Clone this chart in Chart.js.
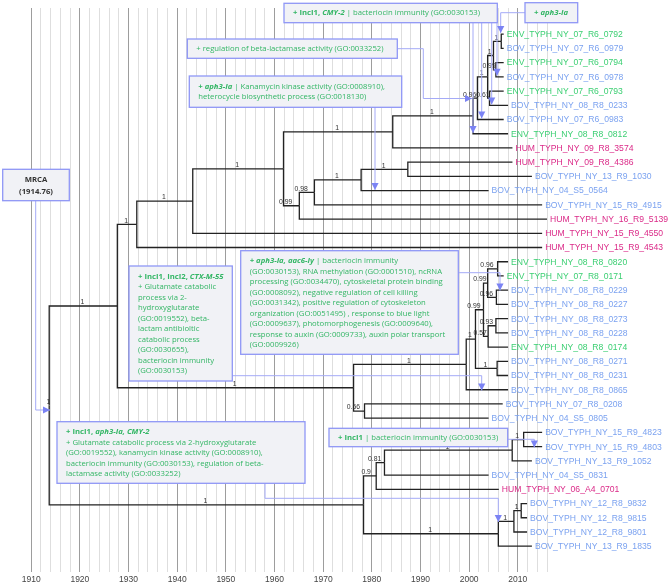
<!DOCTYPE html>
<html>
<head>
<meta charset="utf-8">
<script src="https://cdn.jsdelivr.net/npm/chart.js@4.4.1/dist/chart.umd.min.js"></script>
<style>
  html, body { margin: 0; padding: 0; background: #fff; }
  #wrap { width: 669px; height: 588px; }
</style>
</head>
<body>
<div id="wrap"><canvas id="tree" width="669" height="588"></canvas></div>
<script>
// tips, top to bottom
const leafNames = [
    'ENV_TYPH_NY_07_R6_0792', 'BOV_TYPH_NY_07_R6_0979', 'ENV_TYPH_NY_07_R6_0794', 'BOV_TYPH_NY_07_R6_0978',
    'ENV_TYPH_NY_07_R6_0793', 'BOV_TYPH_NY_08_R8_0233', 'BOV_TYPH_NY_07_R6_0983', 'ENV_TYPH_NY_08_R8_0812',
    'HUM_TYPH_NY_09_R8_3574', 'HUM_TYPH_NY_09_R8_4386', 'BOV_TYPH_NY_13_R9_1030', 'BOV_TYPH_NY_04_S5_0564',
    'BOV_TYPH_NY_15_R9_4915', 'HUM_TYPH_NY_16_R9_5139', 'HUM_TYPH_NY_15_R9_4550', 'HUM_TYPH_NY_15_R9_4543',
    'ENV_TYPH_NY_08_R8_0820', 'ENV_TYPH_NY_07_R8_0171', 'BOV_TYPH_NY_08_R8_0229', 'BOV_TYPH_NY_08_R8_0227',
    'BOV_TYPH_NY_08_R8_0273', 'BOV_TYPH_NY_08_R8_0228', 'ENV_TYPH_NY_08_R8_0174', 'BOV_TYPH_NY_08_R8_0271',
    'BOV_TYPH_NY_08_R8_0231', 'BOV_TYPH_NY_08_R8_0865', 'BOV_TYPH_NY_07_R8_0208', 'BOV_TYPH_NY_04_S5_0805',
    'BOV_TYPH_NY_15_R9_4823', 'BOV_TYPH_NY_15_R9_4803', 'BOV_TYPH_NY_13_R9_1052', 'BOV_TYPH_NY_04_S5_0831',
    'HUM_TYPH_NY_06_A4_0701', 'BOV_TYPH_NY_12_R8_9832', 'BOV_TYPH_NY_12_R8_9815', 'BOV_TYPH_NY_12_R8_9801',
    'BOV_TYPH_NY_13_R9_1835'
];
const leafDates = [
    2007.1, 2007.1, 2007.1, 2007.1, 2007.1, 2008.0, 2007.1, 2008.0,
    2008.9, 2008.9, 2012.9, 2004.0, 2015.0, 2016.0, 2015.0, 2015.0,
    2008.0, 2007.1, 2008.0, 2008.0, 2008.0, 2008.0, 2008.0, 2008.0,
    2008.0, 2008.0, 2006.9, 2004.0, 2015.0, 2015.0, 2012.9, 2004.0,
    2006.1, 2011.9, 2011.9, 2011.9, 2012.9
];
const leafParents = [
    'N12', 'N12', 'N34', 'N34', 'L', 'L', 'I', 'H',
    'G', 'F', 'F', 'E', 'D', 'C', 'A1a', 'A1',
    'N1718', 'N1718', 'N1920', 'N1920', 'AF', 'AF', 'AE', 'AC',
    'AC', 'Z', 'X', 'X', 'U', 'U', 'T', 'S',
    'P', 'W', 'W', 'V', 'R'
];

// internal nodes
const nodeNames = ['root', 'A', 'A1', 'A1a', 'B1', 'G', 'H', 'I', 'J', 'K', 'N12', 'N34', 'L', 'C', 'D', 'E', 'F',
    'Y', 'Z', 'AA', 'AB', 'AD', 'N1718', 'N1920', 'AE', 'AF', 'AC', 'X', 'Q', 'P', 'S', 'T', 'U', 'R', 'V', 'W'];
const nodeDates = [1913.7, 1927.7, 1931.7, 1943.2, 1961.85, 1984.3, 2000.8, 2001.7, 2003.8, 2005.0, 2006.6, 2005.5, 2004.2,
    1965.1, 1968.2, 1977.8, 1987.4, 1976.25, 1999.4, 2001.3, 2002.95, 2003.8, 2005.85, 2005.6, 2003.9, 2005.5, 2005.75,
    1978.5, 1978.3, 1980.9, 1982.6, 2008.85, 2011.2, 2006.0, 2009.2, 2010.7];
const nodeParents = [null, 'root', 'A', 'A1', 'A1a', 'B1', 'G', 'H', 'I', 'J', 'K', 'K', 'J', 'B1', 'C', 'D', 'E',
    'A', 'Y', 'Z', 'AA', 'AB', 'AD', 'AD', 'AB', 'AE', 'AA', 'Y', 'root', 'Q', 'P', 'S', 'T', 'Q', 'R', 'V'];
const nodeSupport = [1, 1, 1, 1, 1, 1, 1, 0.96, 1, 1, 1, 0.99, 0.61, 0.99, 0.98, 1, 1,
    1, 1, 1, 0.99, 0.99, 0.96, 0.96, 0.57, 0.93, 1, 0.56, 1, 0.9, 0.81, 1, 1, 1, 1, 1];
const mrcaLabel = 'MRCA';
const mrcaDate = '1914.76';

const tickLabels = [1910, 1920, 1930, 1940, 1950, 1960, 1970, 1980, 1990, 2000, 2010];

const hostColors = { ENV: '#3bcf72', BOV: '#7ba2f0', HUM: '#db2a88' };

// annotation boxes: [bold|bolditalic|normal, text] segments per line
const boxes = [
    { x: 284, y: 3.3, w: 213.3, h: 19.4, lines: [[['b', '+ IncI1, '], ['bi', 'CMY-2'], ['n', ' | bacteriocin immunity (GO:0030153)']]] },
    { x: 525, y: 2.7, w: 52.7, h: 20, lines: [[['bi', '+ aph3-Ia']]] },
    { x: 187.3, y: 39, w: 210, h: 19.3, lines: [[['n', '+ regulation of beta-lactamase activity (GO:0033252)']]] },
    { x: 189.3, y: 76, w: 212.4, h: 31.3, lines: [
        [['bi', '+ aph3-Ia'], ['n', ' | Kanamycin kinase activity (GO:0008910),']],
        [['n', 'heterocycle biosynthetic process (GO:0018130)']]] },
    { x: 240.7, y: 250.7, w: 217.6, h: 103.6, lines: [
        [['bi', '+ aph3-Ia, aac6-Iy'], ['n', ' | bacteriocin immunity']],
        [['n', '(GO:0030153), RNA methylation (GO:0001510), ncRNA']],
        [['n', 'processing (GO:0034470), cytoskeletal protein binding']],
        [['n', '(GO:0008092), negative regulation of cell killing']],
        [['n', '(GO:0031342), positive regulation of cytoskeleton']],
        [['n', 'organization (GO:0051495) , response to blue light']],
        [['n', '(GO:0009637), photomorphogenesis (GO:0009640),']],
        [['n', 'response to auxin (GO:0009733), auxin polar transport']],
        [['n', '(GO:0009926)']]] },
    { x: 129, y: 266, w: 103.3, h: 115, lines: [
        [['b', '+ IncI1, IncI2, '], ['bi', 'CTX-M-55']],
        [['n', '+ Glutamate catabolic']],
        [['n', 'process via 2-']],
        [['n', 'hydroxyglutarate']],
        [['n', '(GO:0019552), beta-']],
        [['n', 'lactam antibioltic']],
        [['n', 'catabolic process']],
        [['n', '(GO:0030655),']],
        [['n', 'bacteriocin immunity']],
        [['n', '(GO:0030153)']]] },
    { x: 57, y: 421.7, w: 248, h: 61.6, lines: [
        [['b', '+ IncI1, '], ['bi', 'aph3-Ia, CMY-2']],
        [['n', '+ Glutamate catabolic process via 2-hydroxyglutarate']],
        [['n', '(GO:0019552), kanamycin kinase activity (GO:0008910),']],
        [['n', 'bacteriocin immunity (GO:0030153), regulation of beta-']],
        [['n', 'lactamase activity (GO:0033252)']]] },
    { x: 329, y: 428.3, w: 178.7, h: 18.4, lines: [[['b', '+ IncI1'], ['n', ' | bacteriocin immunity (GO:0030153)']]] }
];

// connector paths from boxes to branches, in canvas pixels, arrow head at last point
const arrows = [
    [[35.7, 200.7], [35.7, 410], [50, 410]],
    [[473, 22.7], [473, 133]],
    [[481.7, 22.7], [481.7, 118.6]],
    [[491.7, 22.7], [491.7, 104.5]],
    [[497, 22.7], [497, 75.7]],
    [[525, 12.7], [500.7, 12.7], [500.7, 33]],
    [[397.3, 48.7], [423.3, 48.7], [423.3, 98.5], [472, 98.5]],
    [[375, 107.3], [375, 190]],
    [[232.3, 375.7], [481.7, 375.7], [481.7, 390.5]],
    [[458.3, 272.7], [500, 272.7], [500, 290.5]],
    [[265, 483.3], [265, 498.3], [498.3, 498.3], [498.3, 522]],
    [[507.7, 439.3], [534.3, 439.3], [534.3, 447.5]]
];

// ---- tree layout: y of a node = middle of its children ----
const nodeIndex = {};
nodeNames.forEach((n, i) => nodeIndex[n] = i);
const kids = nodeNames.map(() => []);
leafParents.forEach((p, i) => kids[nodeIndex[p]].push({ leaf: i }));
nodeParents.forEach((p, i) => { if (p) kids[nodeIndex[p]].push({ node: i }); });

const nodeRows = [];
function nodeRow(i) {
    if (nodeRows[i] === undefined) {
        const rows = kids[i].map(c => c.leaf !== undefined ? c.leaf : nodeRow(c.node));
        nodeRows[i] = (Math.min(...rows) + Math.max(...rows)) / 2;
    }
    return nodeRows[i];
}

function elbow(px, py, x, y) {
    return {
        type: 'line',
        data: [{ x: px, y: py }, { x: px, y: y }, { x: x, y: y }],
        borderColor: '#222',
        borderWidth: 1.3,
        pointRadius: 0,
        tension: 0,
        fill: false,
        clip: false
    };
}

const datasets = [];
leafNames.forEach((name, i) => {
    const p = nodeIndex[leafParents[i]];
    datasets.push(elbow(nodeDates[p], nodeRow(p), leafDates[i], i));
});
nodeNames.forEach((name, i) => {
    if (!nodeParents[i]) return;
    const p = nodeIndex[nodeParents[i]];
    datasets.push(elbow(nodeDates[p], nodeRow(p), nodeDates[i], nodeRow(i)));
});
const leafSet = datasets.length;
datasets.push({
    type: 'scatter',
    data: leafNames.map((n, i) => ({ x: leafDates[i], y: i })),
    pointRadius: 0,
    clip: false
});

const SANS = '"Liberation Sans", Arial, Helvetica, sans-serif';
const OPEN = '"Open Sans", "DejaVu Sans", sans-serif';

// pick a font size so that a sample string has the width seen in the picture
function fitSize(ctx, prefix, family, sample, width) {
    ctx.font = `${prefix} 20px ${family}`;
    return 20 * width / ctx.measureText(sample).width;
}

const treeLabels = {
    id: 'treeLabels',
    afterDatasetsDraw(chart) {
        const { ctx, scales: { x, y } } = chart;
        ctx.save();

        // support values above each branch
        const supSize = fitSize(ctx, 'normal 400', SANS, '0.98', 13.3);
        ctx.font = `normal 400 ${supSize}px ${SANS}`;
        ctx.fillStyle = '#333';
        ctx.textAlign = 'right';
        ctx.textBaseline = 'alphabetic';
        nodeNames.forEach((n, i) => {
            const p = nodeParents[i] ? nodeIndex[nodeParents[i]] : i;
            const mid = x.getPixelForValue((nodeDates[p] + nodeDates[i]) / 2);
            ctx.fillText(String(nodeSupport[i]), mid + 1, y.getPixelForValue(nodeRow(i)) - 1.6);
        });

        // tip names
        const leafSize = fitSize(ctx, 'normal 400', SANS, 'BOV_TYPH_NY_13_R9_1835', 116.7);
        ctx.font = `normal 400 ${leafSize}px ${SANS}`;
        ctx.textAlign = 'left';
        ctx.textBaseline = 'middle';
        chart.getDatasetMeta(leafSet).data.forEach((pt, i) => {
            ctx.fillStyle = hostColors[leafNames[i].slice(0, 3)];
            ctx.fillText(leafNames[i], pt.x + 3, pt.y + 0.5);
        });
        ctx.restore();
    },
    afterDraw(chart) {
        const ctx = chart.ctx;
        ctx.save();

        // connectors
        ctx.strokeStyle = '#a4aaf7';
        ctx.lineWidth = 1;
        arrows.forEach(path => {
            ctx.beginPath();
            path.forEach((p, k) => k ? ctx.lineTo(p[0], p[1]) : ctx.moveTo(p[0], p[1]));
            ctx.stroke();
        });

        const boxSize = fitSize(ctx, 'normal 400', OPEN, '+ regulation of beta-lactamase activity (GO:0033252)', 187.6);

        // boxes
        boxes.forEach(b => {
            ctx.fillStyle = '#f1f2f6';
            ctx.fillRect(b.x, b.y, b.w, b.h);
            ctx.strokeStyle = '#8f97f6';
            ctx.lineWidth = 1.3;
            ctx.strokeRect(b.x, b.y, b.w, b.h);
            ctx.fillStyle = '#33b665';
            ctx.textBaseline = 'middle';
            ctx.textAlign = 'left';
            const lh = 10.5;
            const top = b.lines.length === 1 ? b.y + b.h / 2 : b.y + 10.5;
            b.lines.forEach((line, li) => {
                let cx = b.x + 9;
                line.forEach(([style, text]) => {
                    const weight = style === 'n' ? '400' : '700';
                    const slant = style === 'bi' ? 'italic' : 'normal';
                    ctx.font = `${slant} ${weight} ${boxSize}px ${OPEN}`;
                    ctx.fillText(text, cx, top + li * lh);
                    cx += ctx.measureText(text).width;
                });
            });
        });

        // MRCA box
        ctx.fillStyle = '#f1f2f6';
        ctx.fillRect(2.7, 169.3, 66.6, 31.4);
        ctx.strokeStyle = '#8f97f6';
        ctx.strokeRect(2.7, 169.3, 66.6, 31.4);
        ctx.fillStyle = '#333';
        ctx.textAlign = 'center';
        ctx.textBaseline = 'middle';
        ctx.font = `normal 700 ${boxSize}px ${OPEN}`;
        ctx.fillText(mrcaLabel, 36, 180);
        ctx.fillText('(' + mrcaDate + ')', 36, 192.3);

        // arrow heads
        ctx.fillStyle = '#7b83f4';
        arrows.forEach(path => {
            const [ax, ay] = path[path.length - 2];
            const [bx, by] = path[path.length - 1];
            const len = Math.hypot(bx - ax, by - ay);
            const dx = (bx - ax) / len, dy = (by - ay) / len;
            const s = 7, hw = 3.6;
            ctx.beginPath();
            ctx.moveTo(bx, by);
            ctx.lineTo(bx - dx * s - dy * hw, by - dy * s + dx * hw);
            ctx.lineTo(bx - dx * s + dy * hw, by - dy * s - dx * hw);
            ctx.closePath();
            ctx.fill();
        });
        ctx.restore();
    }
};

new Chart(document.getElementById('tree'), {
    type: 'line',
    data: { datasets: datasets },
    options: {
        responsive: false,
        animation: false,
        events: [],
        layout: { padding: { left: 2, right: 122, top: 8, bottom: 0 } },
        plugins: { legend: { display: false }, tooltip: { enabled: false } },
        scales: {
            x: {
                type: 'linear',
                min: 1904,
                max: 2016,
                afterBuildTicks: axis => {
                    const t = [];
                    for (let v = 1910; v <= 2016; v += 2) t.push({ value: v });
                    axis.ticks = t;
                },
                grid: {
                    color: c => (c.tick && c.tick.value % 10 === 0) ? '#9d9d9d' : '#dedede',
                    lineWidth: 1,
                    drawTicks: false
                },
                border: { display: false },
                ticks: {
                    autoSkip: false,
                    maxRotation: 0,
                    padding: 3,
                    color: '#444',
                    font: { family: SANS, size: 8.5 },
                    callback: v => tickLabels.includes(v) ? String(v) : ''
                }
            },
            y: { type: 'linear', reverse: true, min: -1.84, max: 37.8, display: false }
        }
    },
    plugins: [treeLabels]
});
</script>
</body>
</html>
